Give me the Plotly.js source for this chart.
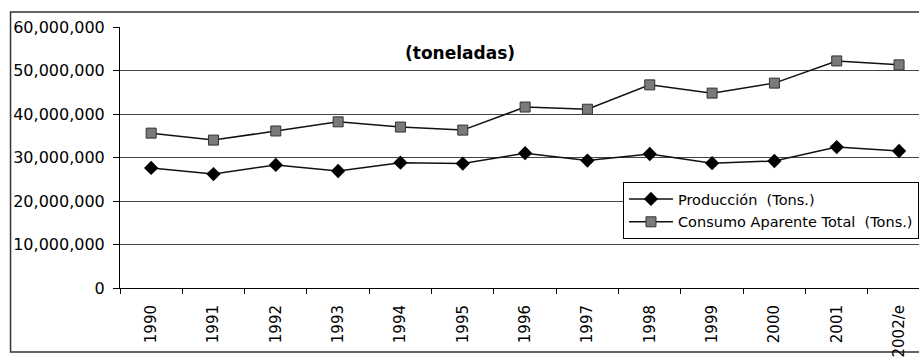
<!DOCTYPE html>
<html>
<head>
<meta charset="utf-8">
<script src="https://cdn.plot.ly/plotly-3.0.1.min.js"></script>
<style>html,body{margin:0;padding:0;overflow:hidden;background:#fff;}</style>
</head>
<body>
<div id="chart" style="width:919px;height:358px;"></div>
<script>
const years = ["1990","1991","1992","1993","1994","1995","1996","1997","1998","1999","2000","2001","2002/e"];
const produccion = [27600000,26200000,28300000,26900000,28800000,28600000,31000000,29300000,30800000,28700000,29200000,32400000,31500000];
const consumo = [35600000,34000000,36100000,38200000,37000000,36300000,41600000,41100000,46700000,44800000,47100000,52200000,51300000];
const yTicks = [0,10000000,20000000,30000000,40000000,50000000,60000000];
const yTickText = ["0","10,000,000","20,000,000","30,000,000","40,000,000","50,000,000","60,000,000"];

const font = "DejaVu Sans, Verdana, sans-serif";

const traces = [
  {
    x: years, y: produccion, type: "scatter", mode: "lines+markers",
    name: "Producción  (Tons.)", legendgroup: "a",
    line: {color: "#111", width: 1.5},
    marker: {symbol: "diamond", size: 11, color: "#000"}
  },
  {
    x: years, y: consumo, type: "scatter", mode: "lines+markers",
    name: "Consumo Aparente Total  (Tons.)", legendgroup: "b",
    line: {color: "#111", width: 1.5},
    marker: {symbol: "square", size: 10, color: "#7a7a7a", line: {color: "#333", width: 1}}
  }
];

const layout = {
  width: 919, height: 358,
  margin: {l: 120, r: 0, t: 27, b: 70, pad: 0},
  paper_bgcolor: "#fff", plot_bgcolor: "#fff",
  font: {family: font, color: "#000", size: 15},
  showlegend: true,
  xaxis: {
    type: "category", range: [-0.5, 12.32],
    showline: true, linecolor: "#000", linewidth: 1,
    ticks: "outside", tickson: "boundaries", ticklen: 5, tickcolor: "#000",
    ticklabelstandoff: 10,
    tickangle: -90, tickfont: {size: 15, family: font},
    showgrid: false, zeroline: false, automargin: false
  },
  yaxis: {
    range: [0, 60000000], tickvals: yTicks, ticktext: yTickText,
    showline: true, linecolor: "#000", linewidth: 1,
    ticks: "outside", ticklen: 6, tickcolor: "#000",
    ticklabelstandoff: 5,
    showgrid: true, gridcolor: "#444", gridwidth: 1,
    zeroline: false, tickfont: {size: 16, family: font}, automargin: false
  },
  legend: {
    x: 0.6295, y: 0.406, xanchor: "left", yanchor: "top",
    bgcolor: "#fff", bordercolor: "#000", borderwidth: 1,
    font: {size: 14.5, family: font}, itemwidth: 44,
    traceorder: "grouped", tracegroupgap: 1
  },
  annotations: [{
    text: "<b>(toneladas)</b>", xref: "paper", yref: "paper",
    x: 0.4255, y: 0.90, xanchor: "center", yanchor: "middle",
    showarrow: false, font: {size: 17, family: font}
  }],
  shapes: [{
    type: "rect", xref: "paper", yref: "paper",
    x0: -0.137, x1: 1.05, y0: -0.245, y1: 1.057,
    line: {color: "#333", width: 1.5}, fillcolor: "rgba(0,0,0,0)", layer: "below"
  }]
};

Plotly.newPlot("chart", traces, layout, {displayModeBar: false, staticPlot: true}).then(function(gd){
  // lengthen legend sample lines to match the reference style
  gd.querySelectorAll('.legend .legendlines path').forEach(function(p){ p.setAttribute('d', 'M5,0h44'); });
  gd.querySelectorAll('.legend .legendpoints path').forEach(function(p){ p.setAttribute('transform', 'translate(27,0)'); });
});
</script>
</body>
</html>
